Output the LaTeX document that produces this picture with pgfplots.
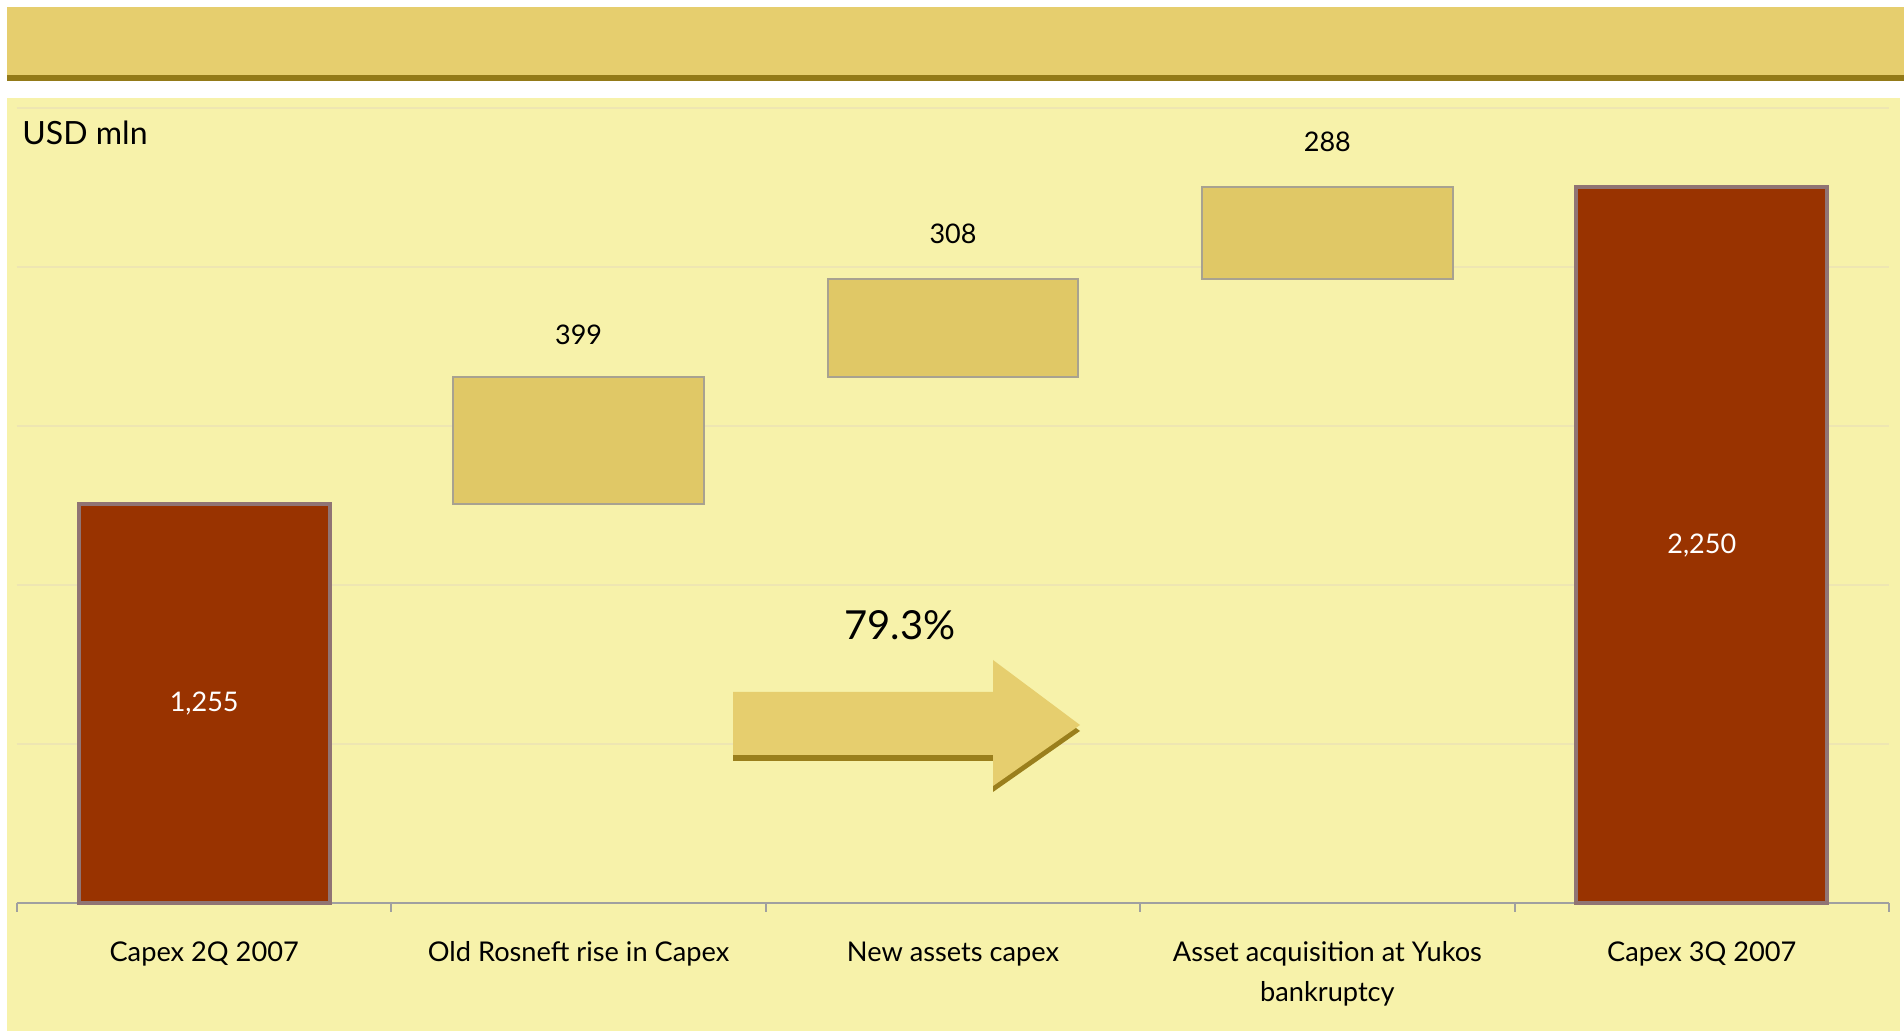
\documentclass[border=0pt]{standalone}
\usepackage{fontspec}
\setmainfont{Lato}
\usepackage{pgfplots}
\pgfplotsset{compat=1.18}
\definecolor{banner}{HTML}{E6CE6E}
\definecolor{bannerdark}{HTML}{937A18}
\definecolor{panel}{HTML}{F7F2AA}
\definecolor{gridc}{HTML}{EEE6B2}
\definecolor{capred}{HTML}{993300}
\definecolor{floatc}{HTML}{E0C866}
\definecolor{floatb}{HTML}{A8A290}
\definecolor{redb}{HTML}{907474}
\definecolor{axisc}{HTML}{A0A0A0}
\definecolor{arrowdark}{HTML}{9A7F1C}
\begin{document}
\begin{tikzpicture}
\useasboundingbox (0,0) rectangle (952pt,515.5pt);
\fill[white] (0,0) rectangle (952pt,515.5pt);
\fill[banner] (3.5pt,478pt) rectangle (952pt,512pt);
\fill[bannerdark] (3.5pt,475pt) rectangle (952pt,478pt);
\fill[panel] (3.5pt,0pt) rectangle (950pt,466.5pt);
\node[anchor=center, font=\fontsize{16}{19}\selectfont] at (42.5pt,449pt) {USD mln};

% floating (bridge) bars: invisible base + visible increment, stacked
\begin{axis}[
  at={(8.5pt,64pt)}, anchor=south west,
  scale only axis, width=936pt, height=397.5pt,
  xmin=-0.5, xmax=4.5, ymin=0, ymax=2500,
  ybar, bar shift=0pt, bar width=0.67,
  clip=false,
  axis x line*=bottom, axis y line*=left,
  y axis line style={draw=none},
  ytick={500,1000,...,2500}, yticklabels={}, ytick style={draw=none},
  ymajorgrids, major grid style={gridc, line width=1pt},
  xtick={0,...,4},
  xticklabels={Capex 2Q 2007, Old Rosneft rise in Capex, New assets capex, Asset acquisition at Yukos\\bankruptcy, Capex 3Q 2007},
  major x tick style={draw=none},
  minor xtick={-0.5,0.5,...,4.5},
  minor x tick style={axisc, line width=1pt},
  minor tick length=4.5pt, tick align=outside,
  x axis line style={axisc, line width=1.2pt, -},
  xticklabel style={font=\fontsize{13.6}{20}\selectfont, align=center, anchor=north, inner sep=0pt, yshift=-15pt},
  nodes near coords style={font=\fontsize{13.5}{16}\selectfont, anchor=center},
]
\addplot[fill=capred, draw=redb, line width=2pt] coordinates {(0,1255) (4,2250)};
\addplot[draw=none, fill=none, nodes near coords, point meta=explicit symbolic,
  every node near coord/.append style={text=white}] coordinates {(0,627.5) [{1,255}] (4,1125) [{2,250}]};
\addplot[draw=none, fill=none, nodes near coords, point meta=explicit symbolic,
  every node near coord/.append style={text=black}] coordinates {(1,1786) [399] (2,2104) [308] (3,2393) [288]};
\end{axis}

\begin{axis}[
  at={(8.5pt,64pt)}, anchor=south west,
  scale only axis, width=936pt, height=397.5pt,
  xmin=-0.5, xmax=4.5, ymin=0, ymax=2500,
  ybar stacked, bar width=0.67,
  clip=false, hide axis,
]
\addplot[draw=none, fill=none] coordinates {(1,1255) (2,1654) (3,1962)};
\addplot[fill=floatc, draw=floatb, line width=1pt] coordinates {(1,399) (2,308) (3,288)};
\end{axis}

% trend arrow (annotation)
\fill[arrowdark] (366.5pt,166.5pt) -- (496.5pt,166.5pt) -- (496.5pt,182.5pt) -- (540pt,150pt) -- (496.5pt,119.5pt) -- (496.5pt,135pt) -- (366.5pt,135pt) -- cycle;
\fill[banner] (366.5pt,169.5pt) -- (496.5pt,169.5pt) -- (496.5pt,185.5pt) -- (540pt,153pt) -- (496.5pt,122.5pt) -- (496.5pt,138pt) -- (366.5pt,138pt) -- cycle;
\node[font=\fontsize{20}{24}\selectfont] at (450pt,203pt) {79.3\%};
\end{tikzpicture}
\end{document}
